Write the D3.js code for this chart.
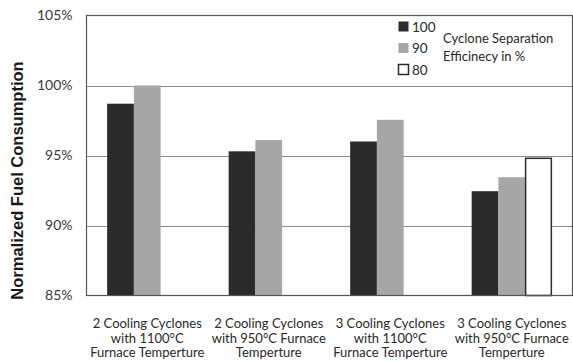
<!DOCTYPE html>
<html>
<head>
<meta charset="utf-8">
<script src="https://cdn.jsdelivr.net/npm/d3@7"></script>
<style>
  html, body { margin: 0; padding: 0; background: #fff; }
  svg { display: block; }
</style>
</head>
<body>
<svg id="chart" width="573" height="361"></svg>
<script>
// Scenario groups (multi-line category labels)
const categories = [
  ["2 Cooling Cyclones", "with 1100°C", "Furnace Temperture"],
  ["2 Cooling Cyclones", "with 950°C Furnace", "Temperture"],
  ["3 Cooling Cyclones", "with 1100°C", "Furnace Temperture"],
  ["3 Cooling Cyclones", "with 950°C Furnace", "Temperture"]
];
// Cyclone separation efficiency series (%)
const seriesNames = ["100", "90", "80"];
// Normalized fuel consumption (%) per scenario; null = not computed
const eff100 = [98.7, 95.3, 96.0, 92.45];
const eff90  = [100.0, 96.1, 97.55, 93.45];
const eff80  = [null, null, null, 94.8];
const yTicks = [85, 90, 95, 100, 105];

const seriesValues = [eff100, eff90, eff80];
const fills = ["#2b2b2b", "#a6a6a6", "#ffffff"];

const svg = d3.select("#chart");
const m = { left: 86.5, right: 572.5, top: 15.5, bottom: 295.5 };

const x0 = d3.scaleBand()
  .domain(d3.range(categories.length))
  .range([m.left, m.right])
  .paddingInner(0.34)
  .paddingOuter(0.17);
const x1 = d3.scaleBand()
  .domain(d3.range(seriesNames.length))
  .range([0, x0.bandwidth()]);
const y = d3.scaleLinear().domain([85, 105]).range([m.bottom, m.top]);

// Gridlines
svg.append("g")
  .selectAll("line")
  .data(yTicks.filter(t => t > 85 && t < 105))
  .join("line")
  .attr("x1", m.left).attr("x2", m.right)
  .attr("y1", d => Math.round(y(d)) + 0.5).attr("y2", d => Math.round(y(d)) + 0.5)
  .attr("stroke", "#8c8c8c").attr("stroke-width", 1);

// Bars
const groups = svg.append("g")
  .selectAll("g")
  .data(categories.map((c, i) => i))
  .join("g")
  .attr("transform", i => `translate(${x0(i)},0)`);

groups.selectAll("rect")
  .data(i => seriesValues.map((s, k) => ({ k, v: s[i] })).filter(d => d.v != null))
  .join("rect")
  .attr("x", d => x1(d.k) + (d.k === 2 ? 0.5 : 0))
  .attr("width", d => x1.bandwidth() - (d.k === 2 ? 1 : 0))
  .attr("y", d => y(d.v))
  .attr("height", d => y(85) - y(d.v))
  .attr("fill", d => fills[d.k])
  .attr("stroke", d => d.k === 2 ? "#2b2b2b" : "none")
  .attr("stroke-width", 1.5);

// Plot frame
svg.append("rect")
  .attr("x", m.left).attr("y", m.top)
  .attr("width", m.right - m.left).attr("height", m.bottom - m.top)
  .attr("fill", "none").attr("stroke", "#555").attr("stroke-width", 1.2);

// Y axis tick labels
const yAxis = d3.axisLeft(y)
  .tickValues(yTicks)
  .tickFormat(d => d + "%")
  .tickSize(0)
  .tickPadding(14);
svg.append("g")
  .attr("transform", `translate(${m.left},0)`)
  .call(yAxis)
  .call(g => g.select(".domain").remove())
  .call(g => g.selectAll("text")
    .attr("font-family", "Lato, 'Open Sans', sans-serif")
    .attr("font-size", 14)
    .attr("fill", "#3a3a3a"));

// Y axis title
svg.append("text")
  .attr("transform", `translate(23,${(m.top + m.bottom) / 2 + 25}) rotate(-90)`)
  .attr("text-anchor", "middle")
  .attr("font-family", "'Liberation Sans', Arial, sans-serif")
  .attr("font-weight", "bold")
  .attr("font-size", 16.5)
  .attr("fill", "#1a1a1a")
  .text("Normalized Fuel Consumption");

// X category labels
const xl = svg.append("g");
categories.forEach((lines, i) => {
  const t = xl.append("text")
    .attr("text-anchor", "middle")
    .attr("font-family", "Lato, 'Open Sans', sans-serif")
    .attr("font-size", 13)
    .attr("fill", "#2a2a2a");
  lines.forEach((ln, j) => {
    t.append("tspan")
      .attr("x", x0(i) + x0.bandwidth() / 2)
      .attr("y", 328 + j * 14.5)
      .text(ln);
  });
});

// Legend
const lg = svg.append("g").attr("transform", "translate(398,27)");
seriesNames.forEach((name, k) => {
  const row = lg.append("g").attr("transform", `translate(0,${k * 21.5})`);
  row.append("rect")
    .attr("x", 0.5).attr("y", -5.5).attr("width", 10).attr("height", 10)
    .attr("fill", fills[k])
    .attr("stroke", k === 2 ? "#2b2b2b" : "none")
    .attr("stroke-width", 1.5);
  row.append("text")
    .attr("x", 14).attr("y", 0).attr("dy", "0.35em")
    .attr("font-family", "Lato, 'Open Sans', sans-serif")
    .attr("font-size", 13.5)
    .attr("fill", "#2a2a2a")
    .text(name);
});
const lt = svg.append("text")
  .attr("font-family", "Lato, 'Open Sans', sans-serif")
  .attr("font-size", 13)
  .attr("fill", "#2a2a2a");
lt.append("tspan").attr("x", 443).attr("y", 43).text("Cyclone Separation");
lt.append("tspan").attr("x", 443).attr("y", 61).text("Efficinecy in %");
</script>
</body>
</html>
